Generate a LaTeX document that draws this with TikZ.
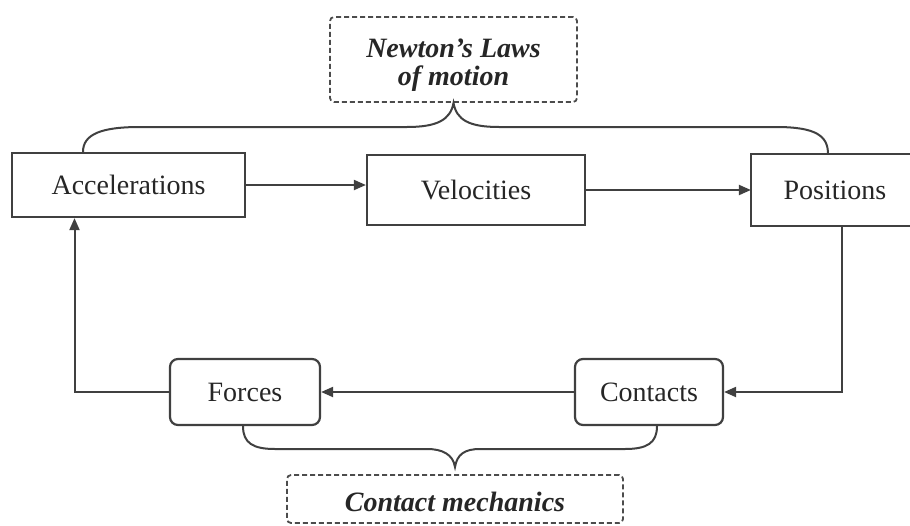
\documentclass[tikz,border=0pt]{standalone}
\usepackage{fontspec}
\setmainfont{Liberation Serif}
\usepackage{tikz}
\usetikzlibrary{arrows.meta}

\begin{document}
\begin{tikzpicture}
    [   x = 1pt
    ,   y = -1pt
    ,   > = {Triangle[length=12pt,width=10pt]}
    ,   every node/.style = {font=\fontsize{28}{30}\selectfont, text=black!85}
    ,   stage/.style =
        {   draw = black!75
        ,   line width = 2.2pt
        ,   rectangle
        ,   inner sep = 0mm
        ,   minimum height = 66pt
        }
    ,   phase/.style = {stage, rounded corners = 8pt}
    ,   theory/.style =
        {   draw = black!70
        ,   dash pattern = on 5pt off 3pt
        ,   line width = 1.8pt
        ,   rounded corners = 4pt
        ,   align = center
        ,   font = \fontsize{28}{30}\selectfont\bfseries\itshape
        }
    ,   link/.style = {draw = black!75, line width = 2pt}
    ]
    \useasboundingbox (0,0) rectangle (910,525);
    \clip (0,0) rectangle (910,525);

    % states of the loop
    \node[stage, minimum width=233pt, minimum height=64pt] (acc) at (128.5,185) {Accelerations};
    \node[stage, minimum width=218pt, minimum height=70pt] (vel) at (476,190) {Velocities};
    % this one runs off the right edge
    \node[stage, draw=none, minimum width=190pt, minimum height=70pt] (pos) at (847,190) {\hspace*{-24pt}Positions};
    \draw[stage] (pos.north east) -- (pos.north west) -- (pos.south west) -- (pos.south east);
    \node[phase, minimum width=150pt] (frc) at (245,392) {Forces};
    \node[phase, minimum width=148pt] (cnt) at (649,392) {Contacts};

    % what governs each part
    \node[theory, minimum width=247pt, minimum height=85pt] (newton) at (453.5,59.5)
        {\raisebox{0pt}[\dimexpr\height+11pt][\depth]{\begin{tabular}{@{}c@{}}Newton's Laws\\[-2pt]of motion\end{tabular}}};
    \node[theory, minimum width=336pt, minimum height=48pt] (mech) at (455,499)
        {\raisebox{0pt}[\dimexpr\height+5pt][\depth]{Contact mechanics}};

    \draw[link,->] (acc.east) -- (acc.east -| vel.west);
    \draw[link,->] (vel) -- (pos);
    \draw[link,->] ([xshift=-5pt]pos.south) |- (cnt.east);
    \draw[link,->] (cnt) -- (frc);
    \draw[link,->] (frc.west) -| ([xshift=-54pt]acc.south);

    % braces
    \draw[link] ([xshift=-45.5pt]acc.north) .. controls +(0,-18) and +(-38,0) .. (140,127)
        -- (407,127) .. controls +(30,0) and +(-3,17) .. (newton.south)
        .. controls +(3,17) and +(-30,0) .. (499,127)
        -- (776,127) .. controls +(40,0) and +(0,-18) .. ([xshift=-19pt]pos.north);
    \draw[link] ([xshift=-2pt]frc.south) .. controls +(0,17) and +(-22,0) .. (275,449)
        -- (427,449) .. controls +(15,0) and +(-2,-13) .. ([yshift=7pt]mech.north)
        .. controls +(2,-13) and +(-15,0) .. (480,449)
        -- (625,449) .. controls +(22,0) and +(0,17) .. ([xshift=8pt]cnt.south);

\end{tikzpicture}
\end{document}
